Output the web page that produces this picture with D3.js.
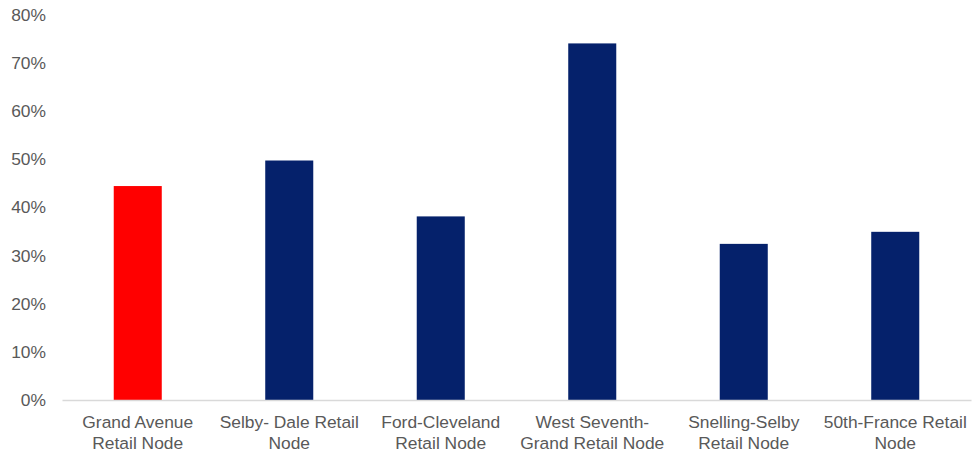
<!DOCTYPE html>
<html>
<head>
<meta charset="utf-8">
<script src="https://cdn.jsdelivr.net/npm/d3@7"></script>
<style>
  html, body { margin: 0; padding: 0; background: #fff; }
  svg { display: block; font-family: "Liberation Sans", Arial, sans-serif; }
</style>
</head>
<body>
<svg id="chart" width="972" height="453"></svg>
<script>
// Share by retail node (fraction of 1)
const categories = [
  ["Grand Avenue", "Retail Node"],
  ["Selby- Dale Retail", "Node"],
  ["Ford-Cleveland", "Retail Node"],
  ["West Seventh-", "Grand Retail Node"],
  ["Snelling-Selby", "Retail Node"],
  ["50th-France Retail", "Node"]
];
const values = [0.444, 0.497, 0.381, 0.740, 0.324, 0.349];
const highlight = [true, false, false, false, false, false];
const yTicks = [0, 0.1, 0.2, 0.3, 0.4, 0.5, 0.6, 0.7, 0.8];

const svg = d3.select("#chart");
const margin = { left: 62, right: 1, top: 14.5, bottom: 53 };
const W = 972, H = 453;
const fontSize = "17.4px";

const x = d3.scaleBand()
  .domain(d3.range(categories.length))
  .range([margin.left, W - margin.right])
  .paddingInner(0.683)
  .paddingOuter(0.3415);

const y = d3.scaleLinear()
  .domain([0, 0.8])
  .range([H - margin.bottom, margin.top]);

// bars
svg.append("g")
  .selectAll("rect")
  .data(values)
  .join("rect")
  .attr("x", (d, i) => x(i))
  .attr("width", x.bandwidth())
  .attr("y", d => y(d))
  .attr("height", d => y(0) - y(d))
  .attr("fill", (d, i) => highlight[i] ? "#ff0000" : "#05216b");

// y axis labels (no axis line)
const yAxis = d3.axisLeft(y)
  .tickValues(yTicks)
  .tickFormat(d3.format(".0%"))
  .tickSize(0)
  .tickPadding(16);
const gy = svg.append("g")
  .attr("transform", `translate(${margin.left},0)`)
  .call(yAxis);
gy.select(".domain").remove();
gy.selectAll("text")
  .attr("fill", "#595959")
  .attr("font-size", fontSize)
  .attr("font-family", "Liberation Sans, Arial, sans-serif");

// x axis baseline
const xAxis = d3.axisBottom(x).tickSize(0).tickFormat("");
const gx = svg.append("g")
  .attr("transform", `translate(0,${y(0)})`)
  .call(xAxis);
gx.select(".domain").attr("stroke", "#d9d9d9").attr("stroke-width", 1.5);

// two-line category labels
gx.selectAll(".tick").each(function(i) {
  const t = d3.select(this).select("text")
    .text(null)
    .attr("y", 0)
    .attr("dy", null)
    .attr("fill", "#595959")
    .attr("font-size", fontSize)
    .attr("font-family", "Liberation Sans, Arial, sans-serif")
    .attr("text-anchor", "middle");
  categories[i].forEach((line, k) => {
    t.append("tspan")
      .attr("x", 0)
      .attr("y", 28 + k * 20.5)
      .text(line);
  });
});
</script>
</body>
</html>
